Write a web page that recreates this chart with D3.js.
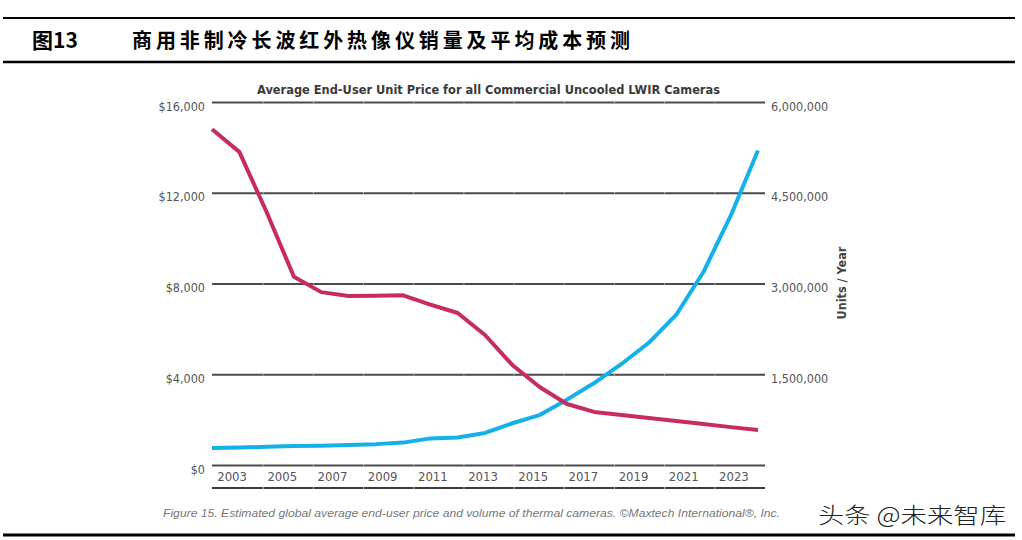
<!DOCTYPE html>
<html>
<head>
<meta charset="utf-8">
<script src="https://cdn.jsdelivr.net/npm/d3@7"></script>
<style>
  html, body { margin: 0; padding: 0; background: #fff; }
  svg { display: block; }
</style>
</head>
<body>
<svg id="chart" width="1022" height="540"></svg>
<script>
// ---- data ----
const years = [2003,2004,2005,2006,2007,2008,2009,2010,2011,2012,2013,2014,2015,2016,2017,2018,2019,2020,2021,2022,2023];
const priceUSD = [14800,13800,11150,8300,7620,7450,7460,7480,7070,6700,5730,4410,3440,2690,2340,2200,2070,1940,1810,1670,1540];
const unitsPerYear = [280000,290000,300000,315000,320000,330000,345000,370000,440000,455000,530000,690000,825000,1080000,1355000,1670000,2020000,2480000,3190000,4120000,5200000];
const xTickLabels = ["2003","2005","2007","2009","2011","2013","2015","2017","2019","2021","2023"];
const priceTicks = [0,4000,8000,12000,16000];
const unitTicks = [1500000,3000000,4500000,6000000];

const headerNum = "图13";
const headerTitle = "商用非制冷长波红外热像仪销量及平均成本预测";
const chartTitle = "Average End-User Unit Price for all Commercial Uncooled LWIR Cameras";
const rightAxisTitle = "Units / Year";
const caption = "Figure 15. Estimated global average end-user price and volume of thermal cameras. ©Maxtech International®, Inc.";
const watermark = "头条 @未来智库";

// ---- layout ----
const svg = d3.select("#chart");
const plotL = 212, plotR = 765, plotT = 102, plotB = 465;
const narrow = "'Liberation Sans Narrow','DejaVu Sans Condensed','Roboto Condensed',sans-serif";

const x = d3.scaleLinear().domain([years[0], years[years.length-1]]).range([212, 758]);
const xBand = d3.scaleBand().domain(xTickLabels).range([207, 759]);
const yP = d3.scaleLinear().domain([0,16000]).range([plotB, plotT]);
const yU = d3.scaleLinear().domain([0,6000000]).range([plotB, plotT]);

// header rules
[[18,2],[62,2.5],[535,3]].forEach(([yy,w]) => {
  svg.append("line").attr("x1",3).attr("x2",1015).attr("y1",yy).attr("y2",yy)
    .attr("stroke","#000").attr("stroke-width",w);
});
svg.append("text").attr("x",32).attr("y",48).text(headerNum)
  .attr("font-family","'Noto Sans CJK SC',sans-serif").attr("font-weight","bold")
  .attr("font-size",21).attr("fill","#000");
svg.append("text").attr("x",132).attr("y",48).text(headerTitle)
  .attr("font-family","'Noto Sans CJK SC',serif").attr("font-weight","bold")
  .attr("font-size",20).attr("fill","#000")
  .attr("textLength",498).attr("lengthAdjust","spacing");

// chart title
svg.append("text").attr("x",(257+720)/2).attr("y",94).attr("text-anchor","middle")
  .text(chartTitle).attr("font-family",narrow).attr("font-weight","bold")
  .attr("font-size",13).attr("fill","#3a3a3a")
  .attr("textLength",463).attr("lengthAdjust","spacingAndGlyphs");

// gridlines (left axis)
const gLeft = svg.append("g").attr("transform",`translate(${plotL},0)`)
  .call(d3.axisLeft(yP).tickValues(priceTicks).tickSize(-(plotR-plotL)).tickPadding(7)
    .tickFormat(d => "$" + d3.format(",")(d)));
gLeft.select(".domain").remove();
gLeft.selectAll(".tick line").attr("stroke","#4a4a4a").attr("stroke-width",2);
gLeft.selectAll(".tick text").attr("font-family",narrow).attr("font-size",12.5)
  .attr("fill","#555").attr("dy","0.65em");

// right axis labels
const gRight = svg.append("g").attr("transform",`translate(${plotR},0)`)
  .call(d3.axisRight(yU).tickValues(unitTicks).tickSize(0).tickPadding(6)
    .tickFormat(d3.format(",")));
gRight.select(".domain").remove();
gRight.selectAll(".tick text").attr("font-family",narrow).attr("font-size",12.5)
  .attr("fill","#555").attr("dy","0.65em");

svg.append("text").attr("transform",`translate(846,283) rotate(-90)`)
  .attr("text-anchor","middle").text(rightAxisTitle)
  .attr("font-family",narrow).attr("font-weight","bold").attr("font-size",12.5).attr("fill","#444");

// bottom axis line and labels
svg.append("line").attr("x1",plotL).attr("x2",plotR).attr("y1",488).attr("y2",488)
  .attr("stroke","#3a3a3a").attr("stroke-width",2);
const gX = svg.append("g").attr("transform",`translate(0,${plotB})`)
  .call(d3.axisBottom(xBand).tickSize(0).tickPadding(6));
gX.select(".domain").remove();
gX.selectAll(".tick text").attr("font-family",narrow).attr("font-size",13)
  .attr("fill","#555").attr("dy","0.75em");

// faint separators on gridlines
const sepX = d3.range(1, xTickLabels.length).map(i => xBand(xTickLabels[i]) + 6);
[...priceTicks.map(t => yP(t)), 488].forEach(yy => {
  svg.append("g").selectAll("line").data(sepX).join("line")
    .attr("x1",d=>d).attr("x2",d=>d).attr("y1",yy-1).attr("y2",yy+1)
    .attr("stroke","#bbb").attr("stroke-width",1);
});

// lines
const linePrice = d3.line().x((d,i)=>x(years[i])).y(d=>yP(d));
const lineUnits = d3.line().x((d,i)=>x(years[i])).y(d=>yU(d));
svg.append("path").datum(unitsPerYear).attr("d",lineUnits)
  .attr("fill","none").attr("stroke","#14b0e8").attr("stroke-width",4)
  .attr("stroke-linejoin","round");
svg.append("path").datum(priceUSD).attr("d",linePrice)
  .attr("fill","none").attr("stroke","#c62d5a").attr("stroke-width",4)
  .attr("stroke-linejoin","round");

// caption & watermark
svg.append("text").attr("x",163).attr("y",517).text(caption)
  .attr("font-family","'Liberation Sans','DejaVu Sans',sans-serif").attr("font-style","italic")
  .attr("font-size",10).attr("fill","#777")
  .attr("textLength",617).attr("lengthAdjust","spacingAndGlyphs");
svg.append("text").attr("x",818).attr("y",523).text(watermark)
  .attr("font-family","'Noto Sans CJK SC',sans-serif").attr("font-weight",300)
  .attr("font-size",22).attr("fill","#222")
  .attr("textLength",188).attr("lengthAdjust","spacingAndGlyphs");
</script>
</body>
</html>
